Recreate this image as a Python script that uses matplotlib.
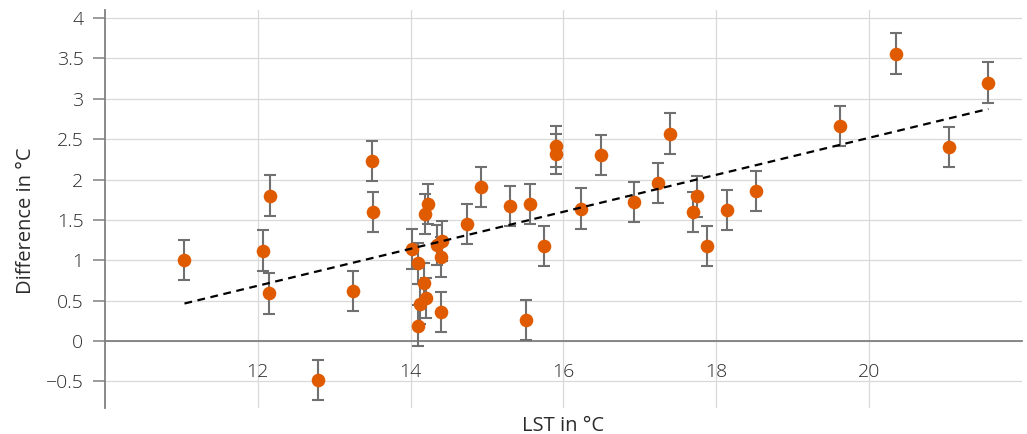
import numpy as np
import matplotlib.pyplot as plt

# ------------------- Data -------------------
lst = [11.04, 12.07, 12.16, 12.14, 12.79, 13.25, 13.50, 13.51,
       14.02, 14.09, 14.17, 14.12, 14.20, 14.09, 14.23, 14.19, 14.35, 14.41, 14.40, 14.40,
       14.74, 14.92, 15.30, 15.56, 15.51, 15.74, 15.90, 15.90, 16.23, 16.49, 16.92, 17.24, 17.39,
       17.70, 17.75, 17.88, 18.14, 18.52, 19.62, 20.35, 21.04, 21.56]
diff = [1.00, 1.12, 1.80, 0.59, -0.48, 0.62, 2.23, 1.60,
        1.14, 0.96, 0.72, 0.46, 0.53, 0.19, 1.70, 1.57, 1.19, 1.24, 1.04, 0.36,
        1.45, 1.91, 1.67, 1.70, 0.26, 1.18, 2.41, 2.32, 1.64, 2.30, 1.72, 1.96, 2.57,
        1.60, 1.79, 1.18, 1.62, 1.86, 2.66, 3.56, 2.40, 3.20]
err = 0.25
x_ticks = [12, 14, 16, 18, 20]
y_ticks = [-0.5, 0, 0.5, 1, 1.5, 2, 2.5, 3, 3.5, 4]

plt.rcParams['font.family'] = ['Open Sans', 'DejaVu Sans']
plt.rcParams['font.weight'] = 'light'
text_col = '#2b2b2b'

fig = plt.figure(figsize=(10.27, 4.34), dpi=100)
ax = fig.add_axes([105/1027, 1 - 408/434, (1022 - 105)/1027, (408 - 10)/434])

# error bars + points
ax.errorbar(lst, diff, yerr=err, fmt='none', ecolor='#707070', elinewidth=1.5,
            capsize=4.5, capthick=1.5, zorder=3)
ax.plot(lst, diff, 'o', color='#E05A00', markersize=9.8, markeredgewidth=0, zorder=4)

# linear trendline over the data range
k, b = np.polyfit(lst, diff, 1)
xs = np.array([min(lst), max(lst)])
ax.plot(xs, k * xs + b, color='black', lw=1.6, dashes=(3.5, 2.5), zorder=5)

# ------------------- Axes styling -------------------
ax.set_xlim(10, 22)
ax.set_ylim(-0.83, 4.1)
ax.set_xticks(x_ticks)
ax.set_yticks(y_ticks)
ax.set_yticklabels([('\u2212' + f'{abs(v):g}') if v < 0 else f'{v:g}' for v in y_ticks])

ax.grid(True, color='#D9D9D9', lw=0.9, zorder=0)
ax.set_axisbelow(True)
for s in ['top', 'right']:
    ax.spines[s].set_visible(False)
ax.spines['bottom'].set_position(('data', 0))
ax.spines['bottom'].set_color('#808080')
ax.spines['bottom'].set_linewidth(1.3)
ax.spines['left'].set_color('#808080')
ax.spines['left'].set_linewidth(1.3)

ax.tick_params(axis='x', length=0, pad=16, labelsize=14, colors=text_col)
ax.tick_params(axis='y', length=8.5, width=1.1, color='#808080', pad=7,
               labelsize=14, labelcolor=text_col)

ax.set_xlabel('LST in °C', fontsize=14.5, color=text_col)
ax.xaxis.set_label_coords(0.5, -0.02)
ax.set_ylabel('Difference in °C', fontsize=14.5, color=text_col)
ax.yaxis.set_label_coords(-0.075, 0.47)

fig.savefig('out.png', dpi=100)
